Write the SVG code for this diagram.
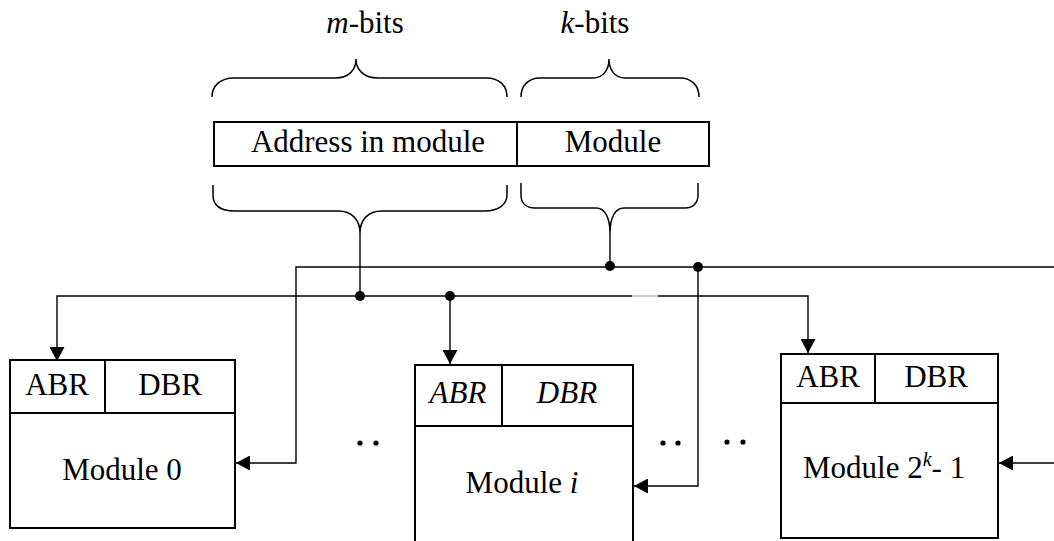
<svg xmlns="http://www.w3.org/2000/svg" width="1054" height="541" viewBox="0 0 1054 541">
  <defs>
    <marker id="head" viewBox="0 0 14 15" refX="14" refY="7.5" markerWidth="14" markerHeight="15" markerUnits="userSpaceOnUse" orient="auto">
      <path d="M0,0 L14,7.5 L0,15 z" fill="#000"/>
    </marker>
  </defs>
  <rect width="1054" height="541" fill="#fff"/>

  <!-- address word split into fields -->
  <g id="address">
    <g fill="none" stroke="#000" stroke-width="1.5">
      <path d="M212,97 C212,86 220,78 234,78 L335,78 C349,78 356,70 356,59 C356,70 364,78 378,78 L486,78 C500,78 507,86 507,97"/>
      <path d="M521,97 C521,86 528,78 540,78 L593,78 C603,78 609,70 609,59 C609,70 615,78 625,78 L680,78 C692,78 699,86 699,97"/>
      <path d="M213,185 L213,195 C213,205 220,211 235,211 L338,211 C352,211 360,220 360,233 C360,220 368,211 382,211 L485,211 C499,211 507,204 507,195 L507,185"/>
      <path d="M521,183 L521,195 C521,203 526,208 535,208 L596,208 C604,208 610,216 610,233 C610,216 616,208 624,208 L685,208 C693,208 698,203 698,195 L698,183"/>
    </g>
    <rect x="214" y="122" width="495" height="44" fill="#fff" stroke="#000" stroke-width="2"/>
    <line x1="517" y1="122" x2="517" y2="166" stroke="#000" stroke-width="2"/>
  </g>

  <!-- buses and select lines -->
  <g id="connectors" fill="none" stroke="#000" stroke-width="1.4">
    <line x1="360" y1="233" x2="360" y2="296"/>
    <line x1="610" y1="233" x2="610" y2="267"/>
    <path marker-end="url(#head)" d="M360,296 L57,296 L57,361"/>
    <path d="M360,296 L632,296"/>
    <line x1="632" y1="296" x2="658" y2="296" stroke="#bbb"/>
    <path marker-end="url(#head)" d="M658,296 L808,296 L808,353"/>
    <path marker-end="url(#head)" d="M450,296 L450,364"/>
    <path marker-end="url(#head)" d="M610,267 L296,267 L296,463 L236,463"/>
    <line x1="610" y1="267" x2="1054" y2="267"/>
    <path marker-end="url(#head)" d="M698,267 L698,486 L634,486"/>
    <path marker-end="url(#head)" d="M1054,463 L999,463"/>
    <g fill="#000" stroke="none">
      <circle cx="360" cy="296" r="5"/>
      <circle cx="450" cy="296" r="5"/>
      <circle cx="610" cy="266" r="5"/>
      <circle cx="698" cy="267" r="5"/>
    </g>
  </g>

  <g id="module0" fill="#fff" stroke="#000" stroke-width="2">
    <rect x="10" y="360" width="225" height="168"/>
    <line x1="10" y1="413" x2="235" y2="413"/>
    <line x1="105" y1="360" x2="105" y2="413"/>
  </g>

  <g id="modulei" fill="#fff" stroke="#000" stroke-width="2">
    <rect x="415" y="365" width="218" height="185"/>
    <line x1="415" y1="426" x2="633" y2="426"/>
    <line x1="502" y1="365" x2="502" y2="426"/>
  </g>

  <g id="modulelast" fill="#fff" stroke="#000" stroke-width="2">
    <rect x="781" y="354" width="217" height="184"/>
    <line x1="781" y1="403" x2="998" y2="403"/>
    <line x1="875" y1="354" x2="875" y2="403"/>
  </g>

  <!-- ellipses between modules -->
  <g id="ellipses" fill="#000">
    <circle cx="360" cy="443" r="2.6"/>
    <circle cx="376" cy="443" r="2.6"/>
    <circle cx="663" cy="443" r="2.6"/>
    <circle cx="678" cy="443" r="2.6"/>
    <circle cx="727" cy="442" r="2.6"/>
    <circle cx="743" cy="442" r="2.6"/>
  </g>

  <!-- labels -->
  <text x="365" y="33" font-size="31" font-family="Liberation Serif, Tinos, Times New Roman, serif" text-anchor="middle"><tspan font-style="italic">m</tspan>-bits</text>
  <text x="595" y="33" font-size="31" font-family="Liberation Serif, Tinos, Times New Roman, serif" text-anchor="middle"><tspan font-style="italic">k</tspan>-bits</text>
  <text x="368" y="152" font-size="31" font-family="Liberation Serif, Tinos, Times New Roman, serif" text-anchor="middle">Address in module</text>
  <text x="613" y="152" font-size="31" font-family="Liberation Serif, Tinos, Times New Roman, serif" text-anchor="middle">Module</text>
  <text x="57" y="395" font-size="31" font-family="Liberation Serif, Tinos, Times New Roman, serif" text-anchor="middle">ABR</text>
  <text x="170" y="395" font-size="31" font-family="Liberation Serif, Tinos, Times New Roman, serif" text-anchor="middle">DBR</text>
  <text x="122" y="480" font-size="31" font-family="Liberation Serif, Tinos, Times New Roman, serif" text-anchor="middle">Module 0</text>
  <text x="458" y="403" font-size="31" font-family="Liberation Serif, Tinos, Times New Roman, serif" font-style="italic" text-anchor="middle">ABR</text>
  <text x="567" y="403" font-size="31" font-family="Liberation Serif, Tinos, Times New Roman, serif" font-style="italic" text-anchor="middle">DBR</text>
  <text x="522" y="493" font-size="31" font-family="Liberation Serif, Tinos, Times New Roman, serif" text-anchor="middle">Module <tspan font-style="italic">i</tspan></text>
  <text x="828" y="387" font-size="31" font-family="Liberation Serif, Tinos, Times New Roman, serif" text-anchor="middle">ABR</text>
  <text x="936" y="387" font-size="31" font-family="Liberation Serif, Tinos, Times New Roman, serif" text-anchor="middle">DBR</text>
  <text x="803" y="478" font-size="31" font-family="Liberation Serif, Tinos, Times New Roman, serif">Module 2<tspan font-style="italic" font-size="20" dy="-12">k</tspan><tspan dy="12">- 1</tspan></text>
</svg>
